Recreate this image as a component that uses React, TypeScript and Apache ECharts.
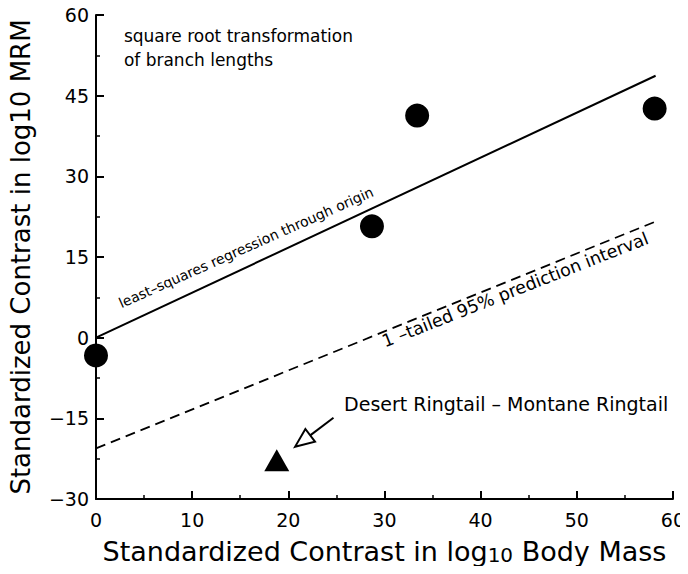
import React, { useEffect, useRef } from "react";
import * as echarts from "echarts";

const circlePoints: [number, number][] = [
  [0, -3.3],
  [28.7, 20.7],
  [33.4, 41.3],
  [58.1, 42.6],
];
const trianglePoints: [number, number][] = [[18.8, -22.8]];
const regressionLine: [number, number][] = [
  [0, 0],
  [58.2, 48.7],
];
const predictionLine: [number, number][] = [
  [0, -20.6],
  [58.2, 21.6],
];
const xTicks = [0, 10, 20, 30, 40, 50, 60];
const yTicks = [-30, -15, 0, 15, 30, 45, 60];

const FONT = "DejaVu Sans";

export default function App() {
  const ref = useRef<HTMLDivElement>(null);
  useEffect(() => {
    if (!ref.current) return;
    const chart = echarts.init(ref.current, undefined, { renderer: "svg" });
    const axisCommon = {
      axisLine: { show: true, onZero: false, lineStyle: { color: "#000", width: 2 } },
      axisTick: { show: true, inside: true, length: 8, lineStyle: { color: "#000", width: 2 } },
      minorTick: { show: true, splitNumber: 2, length: 4, lineStyle: { color: "#000", width: 1.5 } },
      splitLine: { show: false },
      nameLocation: "middle" as const,
    };
    chart.setOption({
      animation: false,
      backgroundColor: "#fff",
      grid: { left: 96, top: 15, right: 15, bottom: 75 },
      xAxis: {
        type: "value",
        min: xTicks[0],
        max: xTicks[xTicks.length - 1],
        interval: 10,
        ...axisCommon,
        axisLabel: { color: "#000", fontSize: 19, fontFamily: FONT, margin: 11 },
        name: "Standardized Contrast in log{sub|10} Body Mass",
        nameGap: 38,
        nameTextStyle: {
          color: "#000",
          fontSize: 27,
          fontFamily: FONT,
          rich: {
            sub: { fontSize: 20, fontFamily: FONT, color: "#000", verticalAlign: "bottom", padding: [8, 0, 0, 0] },
          },
        },
      },
      yAxis: {
        type: "value",
        min: yTicks[0],
        max: yTicks[yTicks.length - 1],
        interval: 15,
        ...axisCommon,
        axisLabel: {
          color: "#000",
          fontSize: 19,
          fontFamily: FONT,
          margin: 7,
          formatter: (v: number) => (v < 0 ? "\u2212" + Math.abs(v) : String(v)),
        },
        name: "Standardized Contrast in log10 MRM",
        nameGap: 62,
        nameTextStyle: { color: "#000", fontSize: 26, fontFamily: FONT },
      },
      series: [
        {
          type: "line",
          data: regressionLine,
          symbol: "none",
          lineStyle: { color: "#000", width: 2 },
          z: 2,
        },
        {
          type: "line",
          data: predictionLine,
          symbol: "none",
          lineStyle: { color: "#000", width: 1.8, type: [10, 6] },
          z: 2,
        },
        {
          type: "scatter",
          data: circlePoints,
          symbol: "circle",
          symbolSize: 24,
          itemStyle: { color: "#000", opacity: 1 },
          clip: false,
          z: 3,
        },
        {
          type: "scatter",
          data: trianglePoints,
          symbol: "triangle",
          symbolSize: [25, 22],
          itemStyle: { color: "#000", opacity: 1 },
          z: 3,
        },
      ],
    });

    const p = (x: number, y: number) => chart.convertToPixel({ gridIndex: 0 }, [x, y]) as number[];
    const tip = p(20.7, -20.3);
    const tail = p(24.7, -14.9);
    const dx = tail[0] - tip[0];
    const dy = tail[1] - tip[1];
    const len = Math.sqrt(dx * dx + dy * dy);
    const ux = dx / len;
    const uy = dy / len;
    const headLen = 19;
    const headHalf = 8;
    const base = [tip[0] + ux * headLen, tip[1] + uy * headLen];
    const c1 = [base[0] - uy * headHalf, base[1] + ux * headHalf];
    const c2 = [base[0] + uy * headHalf, base[1] - ux * headHalf];

    const lblReg = p(15.6, 16.8);
    const lblPred = p(43.6, 8.9);
    const lblNote = p(2.9, 58.3);
    const lblDesert = p(25.8, -12.4);

    chart.setOption({
      graphic: [
        {
          type: "text",
          x: lblNote[0],
          y: lblNote[1],
          style: {
            text: "square root transformation\nof branch lengths",
            fontSize: 17,
            fontFamily: FONT,
            fill: "#000",
            lineHeight: 24,
            textVerticalAlign: "top",
          },
        },
        {
          type: "text",
          x: lblReg[0],
          y: lblReg[1],
          rotation: (24 * Math.PI) / 180,
          style: {
            text: "least\u2013squares regression through origin",
            fontSize: 14,
            fontFamily: FONT,
            fill: "#000",
            align: "center",
            verticalAlign: "middle",
          },
        },
        {
          type: "text",
          x: lblPred[0],
          y: lblPred[1],
          rotation: (21.5 * Math.PI) / 180,
          style: {
            text: "1 \u2013tailed 95% prediction interval",
            fontSize: 17.5,
            fontFamily: FONT,
            fill: "#000",
            align: "center",
            verticalAlign: "middle",
          },
        },
        {
          type: "text",
          x: lblDesert[0],
          y: lblDesert[1],
          style: {
            text: "Desert Ringtail \u2013 Montane Ringtail",
            fontSize: 19,
            fontFamily: FONT,
            fill: "#000",
            align: "left",
            verticalAlign: "middle",
          },
        },
        {
          type: "line",
          shape: { x1: base[0], y1: base[1], x2: tail[0], y2: tail[1] },
          style: { stroke: "#000", lineWidth: 2 },
        },
        {
          type: "polygon",
          shape: { points: [tip, c1, c2] },
          style: { fill: "#fff", stroke: "#000", lineWidth: 2 },
        },
      ],
    });
    return () => chart.dispose();
  }, []);
  return <div ref={ref} style={{ width: 688, height: 574, margin: -8 }} />;
}
